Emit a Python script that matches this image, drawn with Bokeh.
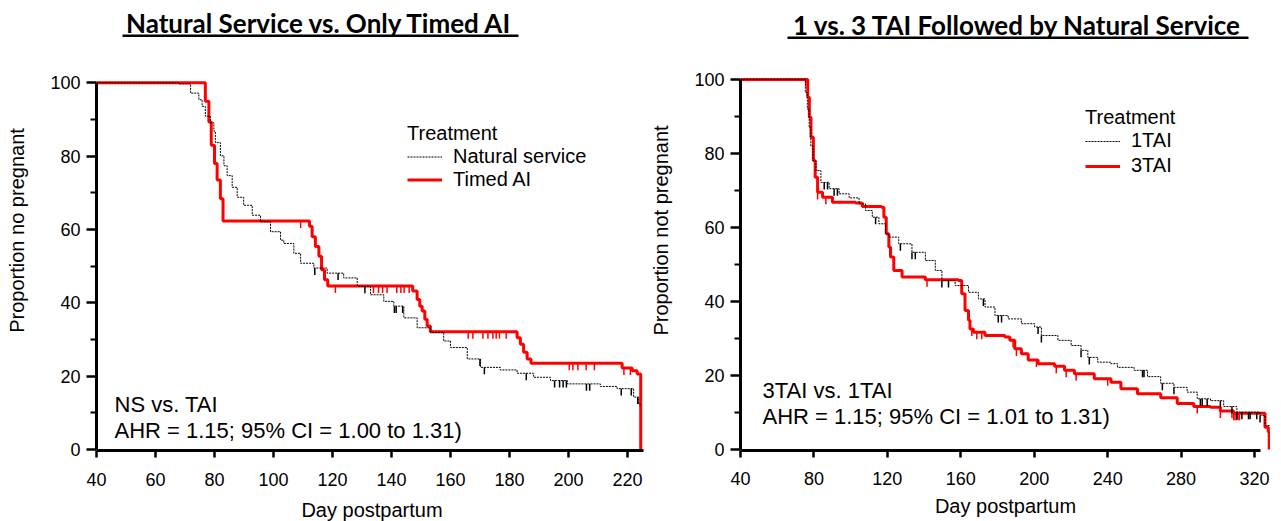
import numpy as np
from bokeh.plotting import figure
from bokeh.models import Range1d, FixedTicker, Label, BoxAnnotation, Legend, LegendItem
from bokeh.layouts import row
from bokeh.embed import file_html
from bokeh.resources import INLINE

FONT = "Liberation Sans"
TITLE_FONT = "Lato"

# ---------------- Left panel: Natural Service vs. Only Timed AI ----------------
ns_days = [40, 67.9, 71.9, 74.7, 75.8, 76.9, 78.6, 79.8, 80.3, 82.0, 83.2, 84.3, 86.0, 87.7,
           89.9, 92.8, 95.6, 99.0, 102.4, 103.5, 106.9, 109.2, 113.7, 118.2, 123.8, 128.4,
           132.9, 137.4, 140.8, 144.2, 148.7, 153.2, 157.7, 160.0, 165.7, 170.2, 176.9,
           182.6, 188.2, 193.9, 199.6, 210.8, 216.5, 222.1, 223.8, 224.3]
ns_surv = [100, 99.7, 97.2, 95.4, 93.6, 90.9, 89.1, 86.8, 83.7, 80.1, 77.4, 74.7, 71.5, 68.8,
           66.6, 63.9, 62.1, 59.4, 57.1, 56.2, 53.5, 50.8, 49.5, 48.1, 46.8, 44.5,
           42.2, 40.4, 39.1, 35.9, 33.2, 31.9, 29.6, 27.8, 24.7, 22.4, 21.7,
           20.8, 19.7, 18.8, 17.9, 17.2, 16.6, 14.3, 12.5, 11.7]
ns_cens = [114.0, 121.9, 131.0, 141.0, 141.6, 143.8, 170.0, 171.5, 185.7, 195.3, 197.0,
           198.2, 199.3, 206.1, 207.2, 217.9, 221.3, 223.5]

tai_days = [40, 76.9, 78.1, 78.9, 80.0, 80.9, 82.0, 82.9, 112.2, 113.1, 114.2, 115.4, 116.3,
            117.3, 118.4, 147.2, 148.7, 149.6, 150.4, 151.3, 152.1, 153.2, 182.6, 183.7,
            184.8, 186.0, 187.3, 218.2, 221.6, 223.3, 224.5]
tai_surv = [100, 95.0, 89.3, 83.0, 78.0, 73.5, 68.4, 62.3, 60.9, 58.0, 55.4, 52.7, 49.0,
            46.3, 44.6, 43.2, 40.9, 39.1, 37.8, 35.5, 33.7, 32.1, 30.5, 28.7,
            26.5, 24.7, 23.5, 22.2, 21.5, 20.6, 0]
tai_cens = [109.2, 121.0, 133.9, 135.6, 137.0, 138.5, 141.8, 143.2, 144.3, 146.0, 166.0,
            167.6, 171.0, 172.7, 174.4, 175.5, 176.6, 178.9, 200.3, 201.5, 203.2, 206.0,
            208.8, 218.8, 221.0]

left_xticks = [40, 60, 80, 100, 120, 140, 160, 180, 200, 220]

# ---------------- Right panel: 1 vs. 3 TAI followed by natural service ----------------
tai1_days = [40, 75.3, 76.4, 77.4, 78.3, 79.5, 81.1, 83.8, 88.3, 93.7, 99.2, 104.6, 108.1,
             111.8, 115.4, 119.0, 120.8, 126.2, 133.4, 140.7, 146.1, 149.7, 156.9, 164.2,
             169.6, 173.2, 178.6, 185.8, 193.0, 200.2, 203.9, 212.9, 220.1, 225.5, 229.2,
             234.6, 241.8, 245.4, 254.4, 261.7, 268.9, 276.1, 283.3, 288.8, 296.0, 303.2,
             310.4, 323.0, 325.7, 329.5]
tai1_surv = [100, 96.5, 92.0, 87.0, 82.0, 78.0, 75.4, 72.2, 70.5, 69.1, 68.0, 66.4, 64.6,
             62.8, 61.0, 58.3, 57.4, 55.6, 53.3, 51.1, 48.4, 45.7, 44.3, 42.5,
             40.7, 38.5, 36.2, 35.3, 34.0, 33.1, 30.8, 29.5, 28.1, 26.8, 24.9,
             23.6, 23.2, 22.2, 21.4, 19.7, 17.9, 16.8, 15.5, 13.7, 13.2, 11.6,
             10.1, 9.2, 6.5, 6.0]
tai1_cens = [85.6, 87.4, 91.0, 92.8, 113.6, 127.1, 133.4, 135.2, 149.7, 153.3, 172.3, 180.4,
             182.2, 202.1, 203.9, 225.5, 230.0, 259.0, 259.8, 269.8, 276.1, 290.5, 291.5,
             294.2, 301.4, 307.7, 310.4, 313.1, 316.7, 317.6, 321.2, 323.0, 329.4]

tai3_days = [40, 76.6, 77.5, 78.4, 79.7, 80.7, 82.0, 84.7, 90.1, 102.7, 106.4, 116.8, 118.1,
             119.4, 120.8, 121.7, 123.5, 128.0, 140.7, 158.7, 160.5, 162.3, 164.2, 165.0,
             166.9, 173.2, 184.0, 186.7, 189.4, 193.0, 196.7, 202.1, 211.1, 216.5, 221.9,
             232.7, 241.8, 247.2, 256.2, 268.9, 277.9, 286.9, 296.0, 301.4, 308.6, 325.7,
             327.5, 328.0]
tai3_surv = [100, 95.2, 89.8, 84.4, 78.1, 73.6, 69.5, 68.2, 66.8, 66.6, 65.7, 65.5, 62.8,
             58.3, 54.7, 52.0, 48.4, 46.6, 45.9, 45.7, 42.1, 37.6, 34.9, 32.6,
             31.7, 30.8, 30.4, 29.5, 27.2, 25.9, 24.2, 23.2, 22.5, 21.4, 20.5,
             19.1, 18.2, 16.4, 15.1, 14.0, 12.4, 11.6, 11.4, 10.4, 9.8, 6.0,
             4.7, 0]
tai3_cens = [75.6, 82.0, 86.5, 141.6, 166.0, 168.7, 171.4, 188.5, 190.3, 201.2, 212.0, 217.4,
             222.8, 240.0, 288.8, 301.4, 307.7, 308.6, 309.4, 310.2, 311.0, 311.8]

right_xticks = [40, 80, 120, 160, 200, 240, 280, 320]

y_ticks = [0, 20, 40, 60, 80, 100]
y_minor = [10, 30, 50, 70, 90]

FIG_H = 524


def level_at(days, surv, t):
    d = np.asarray(days, dtype=float)
    s = np.asarray(surv, dtype=float)
    i = np.searchsorted(d, np.asarray(t, dtype=float), side="right") - 1
    return s[np.clip(i, 0, len(s) - 1)]


def style_axes(p, xticks, xbound, ylabel, ylab_standoff, xtick_standoff, xlab_standoff):
    xa = p.xaxis[0]
    xa.ticker = FixedTicker(ticks=xticks, minor_ticks=[])
    xa.bounds = xbound
    ya = p.yaxis[0]
    ya.ticker = FixedTicker(ticks=y_ticks, minor_ticks=y_minor)
    ya.bounds = (0, 100)
    for ax in (xa, ya):
        ax.axis_line_width = 3
        ax.axis_line_color = "black"
        ax.major_tick_line_color = "black"
        ax.major_tick_line_width = 2.5
        ax.major_tick_in = 0
        ax.major_label_text_font = FONT
        ax.major_label_text_font_size = "18px"
        ax.major_label_text_color = "black"
        ax.axis_label_text_font = FONT
        ax.axis_label_text_font_style = "normal"
        ax.axis_label_text_color = "black"
        ax.axis_label_text_font_size = "20px"
    xa.major_tick_out = 7
    xa.minor_tick_line_color = None
    xa.major_label_standoff = xtick_standoff
    xa.axis_label = "Day postpartum"
    xa.axis_label_standoff = xlab_standoff
    ya.major_tick_out = 10
    ya.minor_tick_out = 6
    ya.minor_tick_in = 0
    ya.minor_tick_line_color = "black"
    ya.minor_tick_line_width = 2
    ya.major_label_standoff = 6
    ya.axis_label = ylabel
    ya.axis_label_standoff = ylab_standoff


def screen_label(p, x, y, text, size="22px", align="left", font=FONT, style="normal"):
    p.add_layout(Label(x=x, y=y, x_units="screen", y_units="screen", text=text,
                       text_font=font, text_font_size=size, text_font_style=style,
                       text_align=align, text_baseline="middle", text_color="black"))


def panel(width, bl, br, bt, bb, xr, yr, xticks, xbound, ylabel, ylab_standoff,
          xtick_standoff, xlab_standoff,
          ref, trt, leg_cfg, title, title_xy, underline, notes, note_xy):
    p = figure(width=width, height=FIG_H, x_range=Range1d(*xr), y_range=Range1d(*yr),
               output_backend="svg", toolbar_location=None,
               min_border_left=bl, min_border_right=br, min_border_top=bt,
               min_border_bottom=bb)
    p.outline_line_color = None
    p.xgrid.visible = False
    p.ygrid.visible = False
    p.background_fill_color = "white"
    style_axes(p, xticks, xbound, ylabel, ylab_standoff, xtick_standoff, xlab_standoff)

    ref_days, ref_surv, ref_cens, ref_name = ref
    trt_days, trt_surv, trt_cens, trt_name = trt

    r_trt = p.step(trt_days, trt_surv, mode="after", line_color="#ff0000", line_width=3)
    lv = level_at(trt_days, trt_surv, trt_cens)
    p.segment(x0=trt_cens, y0=lv, x1=trt_cens, y1=lv - 1.9,
              line_color="#ff0000", line_width=1.5)

    r_ref = p.step(ref_days, ref_surv, mode="after", line_color="black",
                   line_width=1, line_dash="2 1")
    lv = level_at(ref_days, ref_surv, ref_cens)
    p.segment(x0=ref_cens, y0=lv, x1=ref_cens, y1=lv - 1.9,
              line_color="black", line_width=1.5)

    loc, spacing, gh, tstand = leg_cfg
    leg = Legend(items=[LegendItem(label=ref_name, renderers=[r_ref]),
                        LegendItem(label=trt_name, renderers=[r_trt])],
                 title="Treatment", location=loc, orientation="vertical",
                 padding=0, margin=0, spacing=spacing, glyph_width=35,
                 glyph_height=gh, label_height=gh, label_standoff=11,
                 border_line_color=None, background_fill_alpha=0,
                 title_text_font=FONT, title_text_font_size="20px",
                 title_text_font_style="normal", title_text_color="black",
                 label_text_font=FONT, label_text_font_size="20px",
                 label_text_color="black", title_standoff=tstand)
    p.add_layout(leg)

    screen_label(p, title_xy[0], title_xy[1], title, size="26px", align="center",
                 font=TITLE_FONT, style="bold")
    l, r, b, t = underline
    p.add_layout(BoxAnnotation(left=l, right=r, bottom=b, top=t,
                               left_units="screen", right_units="screen",
                               bottom_units="screen", top_units="screen",
                               fill_color="black", fill_alpha=1, line_color=None))
    screen_label(p, note_xy[0], note_xy[1], notes[0])
    screen_label(p, note_xy[0], note_xy[2], notes[1])
    return p


p1 = panel(647, 96, 0, 10, FIG_H - 10 - 444, (40, 226.8), (-0.27, 119.73),
           left_xticks, (40, 225.5), "Proportion no pregnant", 19, 15, 10,
           (ns_days, ns_surv, ns_cens, "Natural service"),
           (tai_days, tai_surv, tai_cens, "Timed AI"),
           ((311, 259), 0, 21, 0),
           "Natural Service vs. Only Timed AI", (223, 428), (26, 422, 413.5, 416),
           ("NS vs. TAI", "AHR = 1.15; 95% CI = 1.00 to 1.31)"), (18, 46, 20))

p2 = panel(623, 90, 0, 10, FIG_H - 10 - 440, (40, 328.7), (-0.27, 118.65),
           right_xticks, (40, 323), "Proportion not pregnant", 19, 14, 7,
           (tai1_days, tai1_surv, tai1_cens, "1TAI"),
           (tai3_days, tai3_surv, tai3_cens, "3TAI"),
           ((345, 273), 2, 20, 0),
           "1 vs. 3 TAI Followed by Natural Service", (277, 426), (47, 508, 411.5, 414),
           ("3TAI vs. 1TAI", "AHR = 1.15; 95% CI = 1.01 to 1.31)"), (22, 60, 34))

layout = row(p1, p2)
open("out.html", "w").write(file_html(layout, INLINE))
